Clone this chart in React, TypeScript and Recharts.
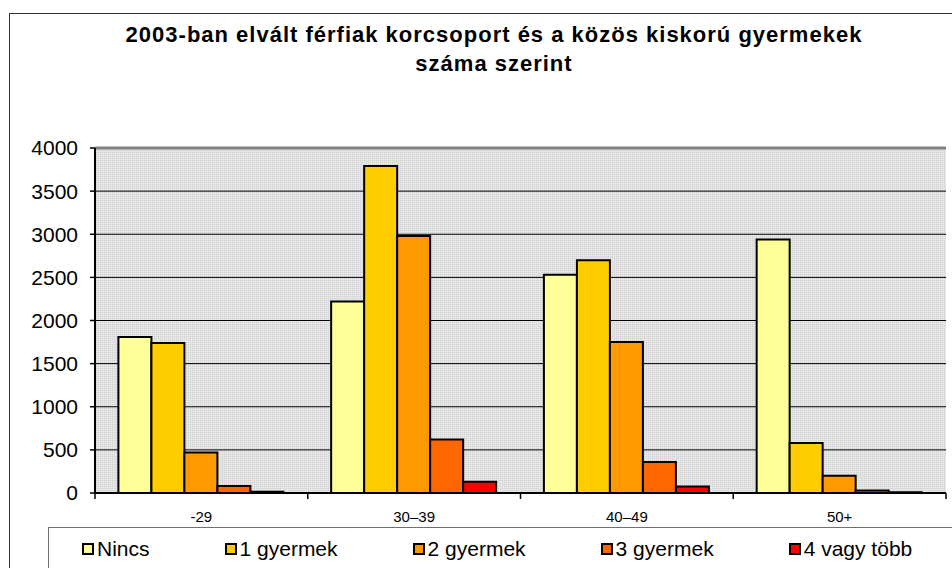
import React from 'react';
import {
  BarChart,
  Bar,
  XAxis,
  YAxis,
  CartesianGrid,
  ReferenceLine,
} from 'recharts';

const categories = ['-29', '30–39', '40–49', '50+'];
const nincs = [1810, 2220, 2530, 2940];
const egyGyermek = [1740, 3790, 2700, 580];
const ketGyermek = [470, 2980, 1750, 200];
const haromGyermek = [80, 620, 360, 30];
const negyVagyTobb = [14, 130, 75, 10];
const yTicks = [0, 500, 1000, 1500, 2000, 2500, 3000, 3500, 4000];

const SERIES = [
  { key: 'nincs', name: 'Nincs', color: '#FFFF99', values: nincs },
  { key: 'gy1', name: '1 gyermek', color: '#FFCC00', values: egyGyermek },
  { key: 'gy2', name: '2 gyermek', color: '#FF9900', values: ketGyermek },
  { key: 'gy3', name: '3 gyermek', color: '#FF6600', values: haromGyermek },
  { key: 'gy4', name: '4 vagy több', color: '#FF0000', values: negyVagyTobb },
];

const FONT = '"Liberation Sans", Arial, sans-serif';

// tabla para recharts
const data = categories.map((cat, i) => {
  const row: Record<string, string | number> = { cat };
  SERIES.forEach((s) => {
    row[s.key] = s.values[i];
  });
  return row;
});

// tick del eje X: etiqueta al centro, marcas en los limites de la categoria
function CategoryTick(props: any) {
  const { x, y, payload, index, visibleTicksCount } = props;
  const off = payload?.offset ?? 0;
  const last = index === (visibleTicksCount ?? categories.length) - 1;
  return (
    <g>
      <line x1={x - off} x2={x - off} y1={y - 18} y2={y - 12} stroke="#000" strokeWidth={1.5} />
      {last && (
        <line x1={x + off} x2={x + off} y1={y - 18} y2={y - 12} stroke="#000" strokeWidth={1.5} />
      )}
      <text x={x} y={y} dy="0.71em" textAnchor="middle" fontSize={15} fill="#000" fontFamily={FONT}>
        {payload.value}
      </text>
    </g>
  );
}

export default function App() {
  return (
    <div
      style={{
        position: 'relative',
        width: 952,
        height: 568,
        overflow: 'hidden',
        background: '#fff',
        fontFamily: FONT,
      }}
    >
      <style>{'body{margin:0}'}</style>
      <div
        style={{
          position: 'absolute',
          left: 9,
          top: 13,
          width: 980,
          height: 620,
          border: '1px solid #333',
        }}
      />
      <div
        style={{
          position: 'absolute',
          left: 0,
          width: 988,
          top: 20,
          textAlign: 'center',
          fontSize: 22,
          letterSpacing: 1,
          fontWeight: 'bold',
          lineHeight: '29px',
          color: '#000',
        }}
      >
        2003-ban elvált férfiak korcsoport és a közös kiskorú gyermekek
        <br />
        száma szerint
      </div>
      <div style={{ position: 'absolute', left: 0, top: 0 }}>
        <BarChart
          width={952}
          height={568}
          data={data}
          margin={{ top: 148, right: 6, bottom: 45, left: 0 }}
          barCategoryGap="11%"
          barGap={0}
        >
          <defs>
            <pattern id="dots" width="2" height="2" patternUnits="userSpaceOnUse">
              <rect width="2" height="2" fill="#e6e6e6" />
              <rect width="1" height="1" fill="#cfcfcf" />
            </pattern>
          </defs>
          <CartesianGrid
            vertical={false}
            fill="url(#dots)"
            fillOpacity={1}
            stroke="#000"
            strokeWidth={1}
          />
          <XAxis
            dataKey="cat"
            height={30}
            tickLine={false}
            tickSize={5}
            tickMargin={13}
            axisLine={{ stroke: '#000', strokeWidth: 2 }}
            tick={<CategoryTick />}
            interval={0}
          />
          <YAxis
            width={95}
            domain={[0, 4000]}
            ticks={yTicks}
            interval={0}
            tickSize={5}
            tickMargin={12}
            tickLine={{ stroke: '#000', strokeWidth: 1.5 }}
            axisLine={{ stroke: '#000', strokeWidth: 2 }}
            tick={{ fontSize: 21, fill: '#000', fontFamily: FONT }}
          />
          <YAxis
            yAxisId="r"
            orientation="right"
            width={0}
            domain={[0, 4000]}
            tick={false}
            tickLine={false}
            axisLine={{ stroke: '#808080', strokeWidth: 3 }}
          />
          <ReferenceLine y={4000} stroke="#808080" strokeWidth={3} />
          {SERIES.map((s) => (
            <Bar
              key={s.key}
              dataKey={s.key}
              name={s.name}
              fill={s.color}
              stroke="#000"
              strokeWidth={2}
              isAnimationActive={false}
            />
          ))}
        </BarChart>
      </div>
      <div
        style={{
          position: 'absolute',
          left: 48,
          top: 527,
          width: 960,
          height: 80,
          border: '1px solid #707070',
          boxSizing: 'border-box',
        }}
      >
        <div
          style={{
            position: 'absolute',
            left: 33,
            top: 9,
            display: 'flex',
            alignItems: 'center',
            gap: 75,
            fontSize: 21,
            color: '#000',
            whiteSpace: 'nowrap',
          }}
        >
          {SERIES.map((s) => (
            <div key={s.key} style={{ display: 'flex', alignItems: 'center' }}>
              <span
                style={{
                  display: 'inline-block',
                  width: 12,
                  height: 12,
                  boxSizing: 'border-box',
                  border: '2px solid #000',
                  background: s.color,
                  marginRight: 3,
                }}
              />
              <span>{s.name}</span>
            </div>
          ))}
        </div>
      </div>
    </div>
  );
}
